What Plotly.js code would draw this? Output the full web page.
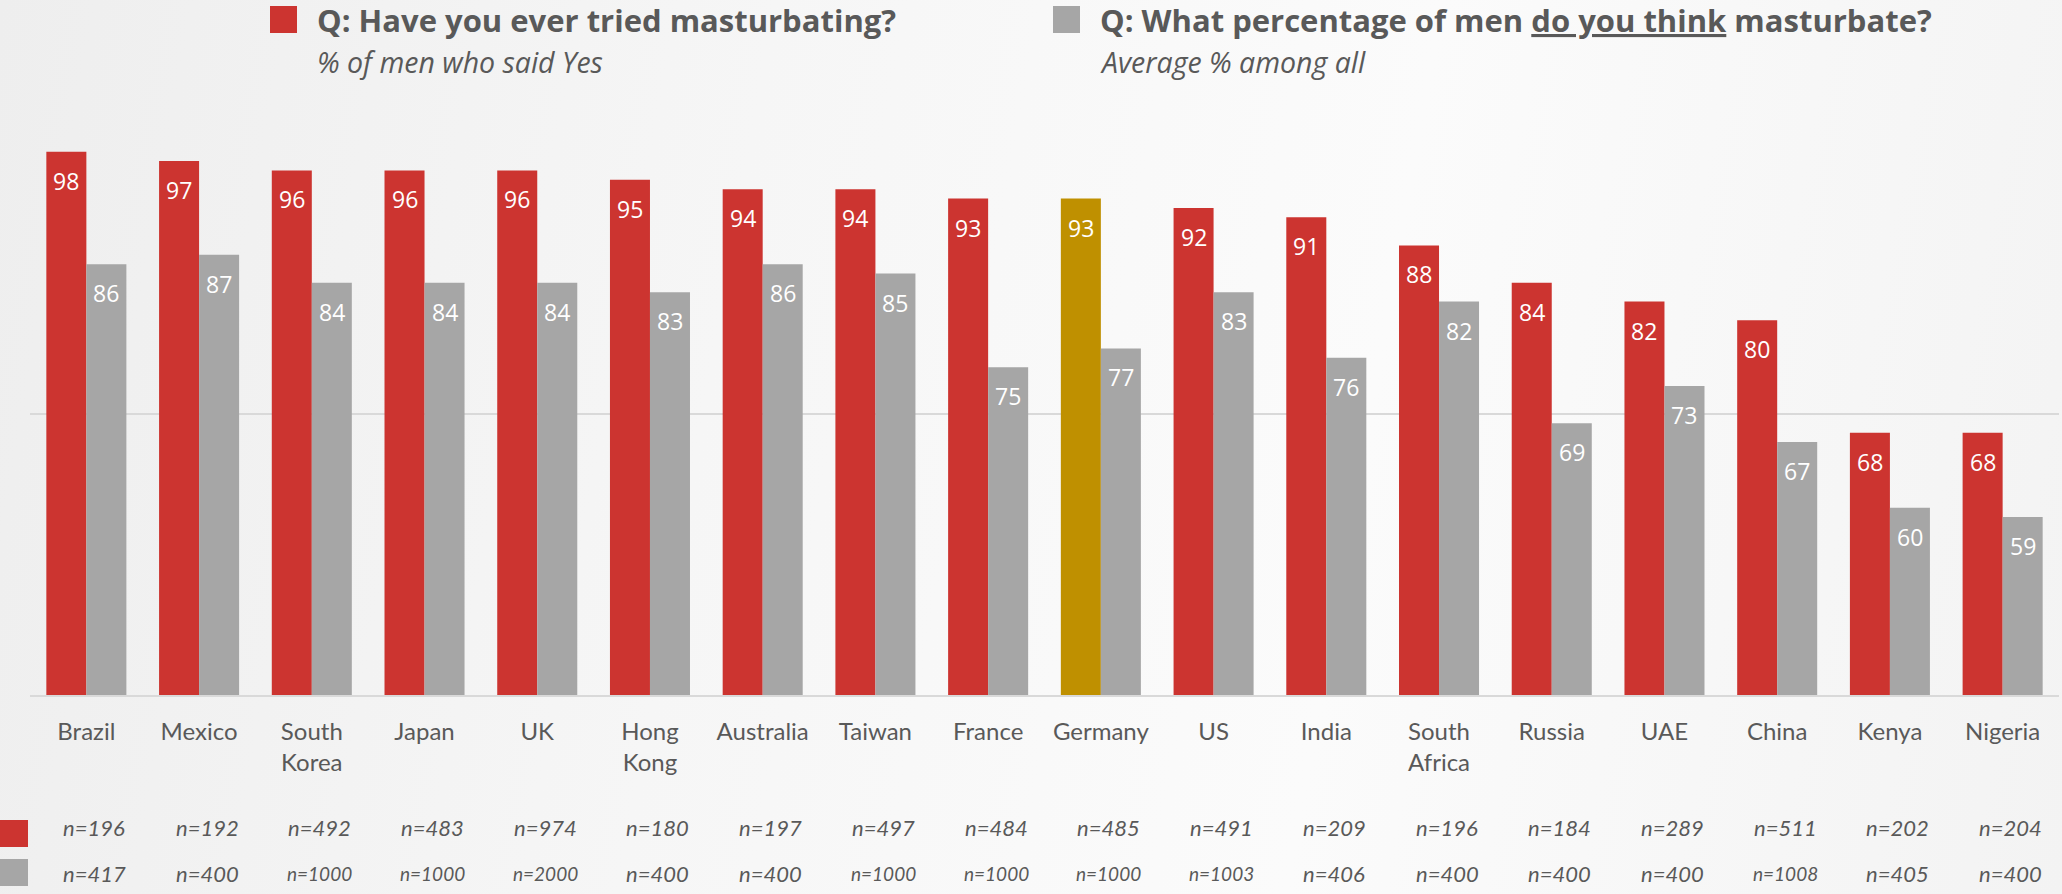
<!DOCTYPE html>
<html>
<head>
<meta charset="utf-8">
<script src="https://cdn.plot.ly/plotly-3.0.1.min.js"></script>
<style>
html,body{margin:0;padding:0;}
body{width:2062px;height:894px;overflow:hidden;
background:linear-gradient(100deg,#eeeeee 0%,#f6f6f6 35%,#fbfbfb 65%,#f3f3f3 100%);}
#chart{width:2062px;height:894px;}
</style>
</head>
<body>
<div id="chart"></div>
<script>
var countries = ['Brazil','Mexico','South<br>Korea','Japan','UK','Hong<br>Kong','Australia','Taiwan','France','Germany','US','India','South<br>Africa','Russia','UAE','China','Kenya','Nigeria'];
var tried = [98,97,96,96,96,95,94,94,93,93,92,91,88,84,82,80,68,68];
var think = [86,87,84,84,84,83,86,85,75,77,83,76,82,69,73,67,60,59];
var nTried = [196,192,492,483,974,180,197,497,484,485,491,209,196,184,289,511,202,204];
var nThink = [417,400,1000,1000,2000,400,400,1000,1000,1000,1003,406,400,400,400,1008,405,400];
var highlight = 'Germany';

var RED = '#cc3430', GRAY = '#a6a6a6', GOLD = '#bf9000', TXT = '#595959';
var W = 2062, H = 894, ML = 30, MR = 3, MT = 133, MB = 199;
var PW = W - ML - MR, PH = H - MT - MB;
function px(x){ return (x - ML) / PW; }
function py(y){ return (H - MB - y) / PH; }

var redColors = countries.map(function(c){ return c === highlight ? GOLD : RED; });

var traces = [
  {type:'bar', x:countries, y:tried, marker:{color:redColors}, hoverinfo:'x+y', name:'tried'},
  {type:'bar', x:countries, y:think, marker:{color:GRAY}, hoverinfo:'x+y', name:'think'}
];

var ann = [];
countries.forEach(function(c,i){
  ann.push({x:c, y:tried[i], xref:'x', yref:'y', text:String(tried[i]), showarrow:false,
    xshift:-20, yshift:-29, yanchor:'middle', font:{family:'Open Sans', size:23, color:'#ffffff'}});
  ann.push({x:c, y:think[i], xref:'x', yref:'y', text:String(think[i]), showarrow:false,
    xshift:20, yshift:-29, yanchor:'middle', font:{family:'Open Sans', size:23, color:'#ffffff'}});
  ann.push({x:c, y:py(827), xref:'x', yref:'paper', text:'<i>n='+nTried[i]+'</i>', showarrow:false,
    xshift:8, yanchor:'middle', font:{family:'Lato', size:nTried[i]>=1000?19:22, color:TXT}});
  ann.push({x:c, y:py(873), xref:'x', yref:'paper', text:'<i>n='+nThink[i]+'</i>', showarrow:false,
    xshift:8, yanchor:'middle', font:{family:'Lato', size:nThink[i]>=1000?19:22, color:TXT}});
});

ann.push({x:px(315), y:py(20), xref:'paper', yref:'paper', xanchor:'left', yanchor:'middle', showarrow:false,
  text:'<b>Q: Have you ever tried masturbating?</b>', font:{family:'Open Sans', size:31, color:TXT}});
ann.push({x:px(315), y:py(62), xref:'paper', yref:'paper', xanchor:'left', yanchor:'middle', showarrow:false,
  text:'<i>% of men who said Yes</i>', font:{family:'Open Sans', size:28.5, color:TXT}});
ann.push({x:px(1098), y:py(20), xref:'paper', yref:'paper', xanchor:'left', yanchor:'middle', showarrow:false,
  text:'<b>Q: What percentage of men <u>do you think</u> masturbate?</b>', font:{family:'Open Sans', size:31, color:TXT}});
ann.push({x:px(1098), y:py(62), xref:'paper', yref:'paper', xanchor:'left', yanchor:'middle', showarrow:false,
  text:'<i>Average % among all</i>', font:{family:'Open Sans', size:28.5, color:TXT}});

var shapes = [
  {type:'rect', xref:'paper', yref:'paper', x0:px(270), x1:px(297), y0:py(33), y1:py(6), fillcolor:RED, line:{width:0}},
  {type:'rect', xref:'paper', yref:'paper', x0:px(1053), x1:px(1080), y0:py(33), y1:py(6), fillcolor:GRAY, line:{width:0}},
  {type:'rect', xref:'paper', yref:'paper', x0:px(0), x1:px(28), y0:py(847), y1:py(820), fillcolor:RED, line:{width:0}},
  {type:'rect', xref:'paper', yref:'paper', x0:px(0), x1:px(28), y0:py(886), y1:py(859), fillcolor:GRAY, line:{width:0}}
];

var layout = {
  width:W, height:H,
  margin:{l:ML, r:MR, t:MT, b:MB, pad:0},
  paper_bgcolor:'rgba(0,0,0,0)', plot_bgcolor:'rgba(0,0,0,0)',
  barmode:'group', bargap:0.29, bargroupgap:0,
  showlegend:false,
  xaxis:{type:'category', showgrid:false, showline:true, linecolor:'#d9d9d9', linewidth:2,
    ticks:'outside', ticklen:14, tickcolor:'rgba(0,0,0,0)',
    tickfont:{family:'Lato', size:24, color:TXT}, fixedrange:true},
  yaxis:{range:[40,100], tickvals:[40,70,100], showticklabels:false, showgrid:true,
    gridcolor:'#d9d9d9', gridwidth:2, zeroline:false, fixedrange:true},
  annotations:ann, shapes:shapes
};

Plotly.newPlot('chart', traces, layout, {displayModeBar:false, staticPlot:true});
</script>
</body>
</html>
